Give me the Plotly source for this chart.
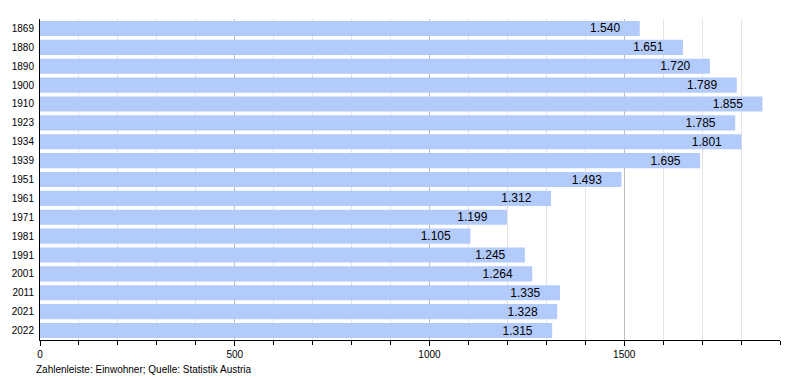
import plotly.graph_objects as go

years = ["1869", "1880", "1890", "1900", "1910", "1923", "1934", "1939", "1951",
         "1961", "1971", "1981", "1991", "2001", "2011", "2021", "2022"]
population = [1540, 1651, 1720, 1789, 1855, 1785, 1801, 1695, 1493,
              1312, 1199, 1105, 1245, 1264, 1335, 1328, 1315]
x_ticks = [0, 500, 1000, 1500]
footnote = "Zahlenleiste: Einwohner; Quelle: Statistik Austria"

FONT = "Liberation Sans, Arial, sans-serif"

fig = go.Figure(go.Bar(
    y=years,
    x=population,
    orientation="h",
    marker=dict(color="#b3cbfb", line=dict(width=0)),
    texttemplate="%{x:,}" + "\u00a0" * 5,
    textposition="inside",
    insidetextanchor="end",
    constraintext="none",
    textfont=dict(color="black", size=12, family=FONT),
    hoverinfo="skip",
))

fig.update_layout(
    width=800, height=380,
    margin=dict(l=40, r=20, t=19, b=40, autoexpand=False),
    plot_bgcolor="white", paper_bgcolor="white",
    separators=",.",
    bargap=0.2,
    showlegend=False,
    font=dict(family=FONT, size=10, color="black"),
    annotations=[dict(
        text=footnote, xref="paper", yref="paper", x=0, y=0,
        xanchor="left", yanchor="middle", xshift=-6, yshift=-29,
        showarrow=False, font=dict(size=10, family=FONT, color="black"),
    )],
)

fig.update_xaxes(
    range=[0, 1900], tickvals=x_ticks, tickformat="d",
    showgrid=True, gridcolor="#bdbdbd", gridwidth=1,
    showline=True, linecolor="black", linewidth=1,
    ticks="outside", ticklen=5, tickcolor="black",
    zeroline=False, automargin=False,
    minor=dict(dtick=100, showgrid=True, gridcolor="#e4e4e4",
               ticks="outside", ticklen=4, tickcolor="black"),
    tickfont=dict(size=10),
)
fig.update_yaxes(
    autorange="reversed", categoryorder="array", categoryarray=years,
    showline=True, linecolor="black", linewidth=1,
    showgrid=False, ticks="", tickfont=dict(size=10), automargin=False,
    ticklabelstandoff=3,
)

fig.write_html(
    "out.html",
    config={"displayModeBar": False, "staticPlot": True},
    post_script="document.body.style.margin='0';",
)
